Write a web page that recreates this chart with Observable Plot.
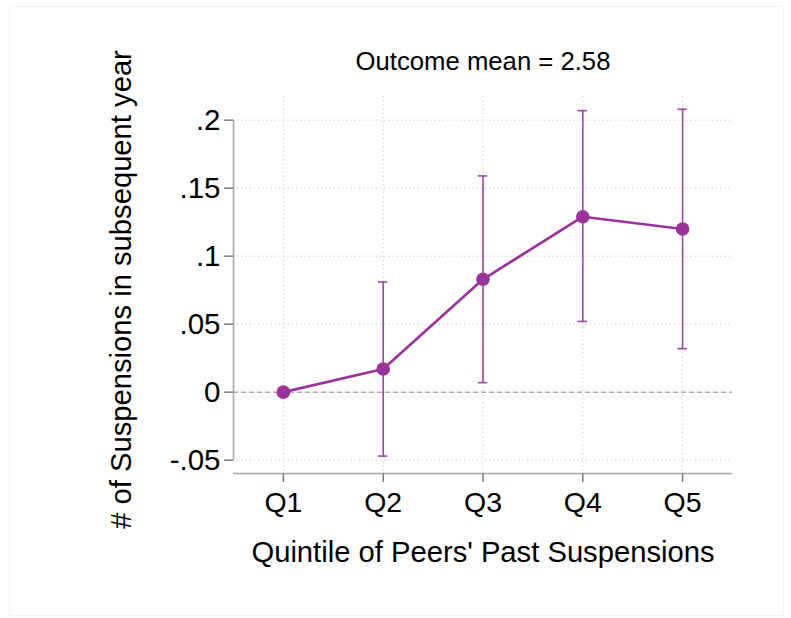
<!DOCTYPE html>
<html>
<head>
<meta charset="utf-8">
<script src="https://cdn.jsdelivr.net/npm/d3@7"></script>
<script src="https://cdn.jsdelivr.net/npm/@observablehq/plot@0.6"></script>
<style>
  html, body { margin: 0; padding: 0; background: #fff; }
  #wrap { position: relative; width: 791px; height: 618px; overflow: hidden; }
  #border { position: absolute; left: 9px; top: 6px; width: 773px; height: 608px; border: 1px solid #f3f3f3; pointer-events: none; }
</style>
</head>
<body>
<div id="wrap"><div id="border"></div></div>
<script>
// ---- data ----
const quintiles = ["Q1", "Q2", "Q3", "Q4", "Q5"];
const estimates = [0, 0.017, 0.083, 0.129, 0.120];
const ciLow  = [null, -0.047, 0.007, 0.052, 0.032];
const ciHigh = [null,  0.081, 0.159, 0.207, 0.208];
const yTicks = [-0.05, 0, 0.05, 0.1, 0.15, 0.2];
const yTickLabels = ["-.05", "0", ".05", ".1", ".15", ".2"];
const titleText = "Outcome mean = 2.58";
const xTitle = "Quintile of Peers' Past Suspensions";
const yTitle = "# of Suspensions in subsequent year";

const purple = "#9A339A";
const data = quintiles.map((q, i) => ({pos: i + 1, q, est: estimates[i], lo: ciLow[i], hi: ciHigh[i]}));
const ci = data.filter(d => d.lo != null);
const xPos = data.map(d => d.pos);
const yDomain = [-0.0598, 0.2174];
const capHalf = 0.047;
const gridStyle = {stroke: "#c4c4c4", strokeOpacity: 1, strokeDasharray: "1.2,3", strokeWidth: 1};

const chart = Plot.plot({
  width: 791,
  height: 618,
  marginLeft: 233,
  marginRight: 59,
  marginTop: 96,
  marginBottom: 145,
  style: {fontFamily: "'Liberation Sans', Arial, sans-serif", background: "transparent", color: "#000"},
  x: {domain: [0.5, 5.5]},
  y: {domain: yDomain},
  marks: [
    Plot.gridY(yTicks.filter(t => t !== 0), gridStyle),
    Plot.gridX(xPos, gridStyle),
    Plot.ruleY([0], {stroke: "#808080", strokeDasharray: "5,3", strokeWidth: 1}),
    Plot.ruleY([yDomain[0]], {stroke: "#a8a8a8", strokeWidth: 1.6}),
    Plot.ruleX([0.5], {y1: yTicks[0], y2: yTicks[yTicks.length - 1], stroke: "#a8a8a8", strokeWidth: 1.6}),
    Plot.axisY({ticks: yTicks, tickFormat: d => yTickLabels[yTicks.indexOf(d)], tickSize: 9, tickPadding: 4,
                fontSize: 29.5, label: null, stroke: "#7a7a7a", strokeWidth: 1.5}),
    Plot.axisX({ticks: xPos, tickFormat: p => quintiles[p - 1], tickSize: 9, tickPadding: 9,
                fontSize: 28.5, label: null, stroke: "#7a7a7a", strokeWidth: 1.5}),
    Plot.ruleX(ci, {x: "pos", y1: "lo", y2: "hi", stroke: purple, strokeWidth: 1.6, strokeOpacity: 0.9}),
    Plot.ruleY(ci, {y: "lo", x1: d => d.pos - capHalf, x2: d => d.pos + capHalf, stroke: purple, strokeWidth: 1.6, strokeOpacity: 0.9}),
    Plot.ruleY(ci, {y: "hi", x1: d => d.pos - capHalf, x2: d => d.pos + capHalf, stroke: purple, strokeWidth: 1.6, strokeOpacity: 0.9}),
    Plot.line(data, {x: "pos", y: "est", stroke: purple, strokeWidth: 2.7}),
    Plot.dot(data, {x: "pos", y: "est", r: 6.8, fill: purple, stroke: "none"}),
    Plot.text([titleText], {frameAnchor: "top", dy: -34.3, lineAnchor: "middle", fontSize: 25.7, fill: "#000"}),
    Plot.text([xTitle], {frameAnchor: "bottom", dy: 79, lineAnchor: "middle", fontSize: 29.2, fill: "#000"}),
    Plot.text([yTitle], {frameAnchor: "left", rotate: -90, textAnchor: "middle", dx: -112, dy: 4.5, lineAnchor: "middle", fontSize: 29.2, fill: "#000"})
  ]
});
document.getElementById("wrap").prepend(chart);
</script>
</body>
</html>
